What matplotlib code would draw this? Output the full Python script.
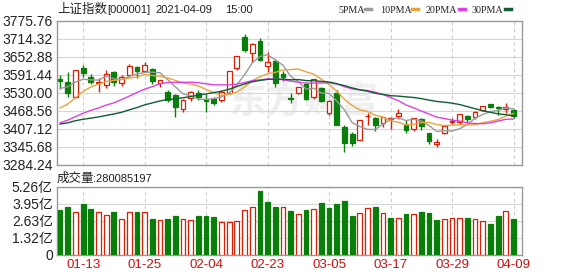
import numpy as np
import pandas as pd
import matplotlib
matplotlib.use("Agg")
import matplotlib.pyplot as plt
from matplotlib.lines import Line2D

# trading days shown (2021)
dates = ["01-08", "01-11", "01-12", "01-13", "01-14", "01-15", "01-18", "01-19", "01-20", "01-21",
         "01-22", "01-25", "01-26", "01-27", "01-28", "01-29", "02-01", "02-02", "02-03", "02-04",
         "02-05", "02-08", "02-09", "02-10", "02-18", "02-19", "02-22", "02-23", "02-24", "02-25",
         "02-26", "03-01", "03-02", "03-03", "03-04", "03-05", "03-08", "03-09", "03-10", "03-11",
         "03-12", "03-15", "03-16", "03-17", "03-18", "03-19", "03-22", "03-23", "03-24", "03-25",
         "03-26", "03-29", "03-30", "03-31", "04-01", "04-02", "04-06", "04-07", "04-08", "04-09"]
tick_labels = ["01-13", "01-25", "02-04", "02-23", "03-05", "03-17", "03-29", "04-09"]

opens = [3577.7, 3566.0, 3518.0, 3614.0, 3586.0, 3563.0, 3558.0, 3600.0, 3564.0, 3590.0,
         3618.0, 3606.0, 3611.0, 3565.0, 3535.0, 3523.0, 3474.0, 3512.0, 3531.0, 3509.0,
         3510.0, 3506.0, 3531.0, 3614.0, 3720.0, 3665.0, 3709.0, 3622.0, 3640.0, 3594.0,
         3512.0, 3530.0, 3561.0, 3517.0, 3546.0, 3463.0, 3531.0, 3413.0, 3390.0, 3370.0,
         3450.0, 3444.0, 3427.0, 3440.0, 3453.0, 3421.0, 3406.0, 3440.0, 3392.0, 3356.0,
         3392.0, 3432.0, 3432.0, 3452.0, 3449.0, 3472.0, 3491.0, 3482.0, 3474.0, 3472.0]
highs = [3590.0, 3600.0, 3608.5, 3625.0, 3595.0, 3582.0, 3609.0, 3605.0, 3590.0, 3628.0,
         3622.0, 3636.0, 3615.0, 3575.0, 3540.0, 3525.0, 3510.0, 3538.0, 3540.0, 3527.0,
         3515.0, 3540.0, 3603.5, 3657.0, 3731.0, 3702.0, 3718.0, 3670.0, 3645.0, 3605.0,
         3530.0, 3552.0, 3565.0, 3578.0, 3550.0, 3505.0, 3540.0, 3420.0, 3398.0, 3437.0,
         3461.0, 3448.0, 3447.0, 3448.0, 3475.0, 3438.0, 3444.0, 3445.0, 3395.0, 3372.0,
         3420.0, 3445.0, 3457.0, 3455.0, 3467.0, 3487.0, 3493.0, 3485.0, 3495.0, 3476.0]
lows = [3545.0, 3518.0, 3512.0, 3585.0, 3560.0, 3535.0, 3546.0, 3555.0, 3555.0, 3585.0,
        3582.0, 3600.0, 3560.0, 3552.0, 3500.0, 3448.0, 3465.0, 3502.0, 3505.0, 3466.0,
        3490.0, 3500.0, 3529.0, 3610.0, 3670.0, 3637.0, 3640.0, 3603.0, 3549.0, 3570.0,
        3495.0, 3525.0, 3505.0, 3510.0, 3500.0, 3455.0, 3420.0, 3329.0, 3349.0, 3368.0,
        3421.0, 3400.0, 3415.0, 3408.0, 3440.0, 3392.0, 3400.0, 3405.0, 3355.0, 3347.0,
        3390.0, 3425.0, 3425.0, 3427.0, 3440.0, 3470.0, 3478.0, 3455.0, 3463.0, 3444.0]
closes = [3570.11, 3531.50, 3608.34, 3598.65, 3565.90, 3566.38, 3596.22, 3566.26, 3583.09, 3621.26,
          3606.75, 3624.24, 3569.43, 3573.34, 3505.18, 3483.07, 3505.28, 3533.68, 3517.31, 3501.86,
          3496.33, 3532.44, 3603.49, 3655.09, 3675.36, 3696.17, 3642.44, 3636.36, 3564.08, 3585.05,
          3509.08, 3551.40, 3508.59, 3576.90, 3503.49, 3501.99, 3421.41, 3359.29, 3357.74, 3436.83,
          3453.08, 3419.95, 3446.73, 3445.55, 3463.07, 3404.66, 3443.44, 3416.00, 3367.06, 3363.59,
          3418.33, 3435.31, 3456.68, 3441.91, 3466.33, 3484.39, 3482.97, 3479.63, 3482.55, 3450.68]
# closes of the 29 sessions before 01-08, only used to start the moving averages
warmup_close = [3408.31, 3391.76, 3451.94, 3449.38, 3442.14, 3444.58, 3416.60, 3410.18, 3371.96, 3373.28,
                3347.19, 3369.12, 3367.23, 3366.98, 3404.87, 3394.90, 3420.57, 3356.78, 3382.32, 3363.11,
                3396.56, 3397.29, 3379.04, 3414.45, 3473.07, 3502.96, 3528.68, 3550.88, 3576.20]
# volume in 亿
volume = [3.46, 3.70, 3.31, 3.93, 3.54, 3.31, 3.08, 3.31, 2.77, 3.31,
          3.31, 3.31, 2.77, 2.69, 2.77, 3.00, 2.77, 2.69, 3.00, 3.00,
          2.93, 2.54, 2.54, 2.62, 3.46, 3.70, 4.93, 4.08, 3.70, 3.70,
          3.39, 3.16, 3.46, 3.54, 4.00, 3.62, 3.93, 4.16, 3.00, 3.23,
          3.62, 3.70, 3.23, 2.85, 2.85, 3.16, 3.16, 3.31, 3.23, 2.69,
          2.77, 2.85, 2.85, 2.85, 2.77, 2.62, 2.39, 3.00, 3.39, 2.80]
last_volume = 280085197

price_ticks = [3284.24, 3345.68, 3407.12, 3468.56, 3530.00, 3591.44, 3652.88, 3714.32, 3775.76]
vol_ticks = [0, 1.315, 2.63, 3.945, 5.26]
vol_tick_labels = ["0", "1.32亿", "2.63亿", "3.95亿", "5.26亿"]

RED = '#d81e06'
GREEN = '#0a7e0a'
ma_colors = {5: '#9a9a9a', 10: '#e8a43a', 20: '#e040e0', 30: '#0f5e32'}
FONT = ['Liberation Sans', 'Noto Sans CJK SC']
CJK = ['Noto Sans CJK SC', 'DejaVu Sans']

o = np.array(opens); h = np.array(highs); l = np.array(lows); c = np.array(closes)
x = np.arange(len(dates))
all_close = pd.Series(warmup_close + closes)
ma = {n: all_close.rolling(n).mean().iloc[len(warmup_close):].to_numpy() for n in (5, 10, 20, 30)}
prev = np.array([warmup_close[-1]] + closes[:-1])
vol_up = c >= prev
up = c >= o

fig = plt.figure(figsize=(5.78, 2.76), dpi=100)
W, H = 578, 276
ax = fig.add_axes([57 / W, 1 - 165 / H, 465 / W, 144 / H])
axv = fig.add_axes([57 / W, 1 - 255 / H, 465 / W, 68.3 / H])

tick_pos = [dates.index(t) for t in tick_labels]

for a in (ax, axv):
    a.set_xlim(-0.4, 60.1)
    a.set_xticks(tick_pos)
    a.xaxis.grid(True, color='#cccccc', lw=0.8, ls=(0, (3, 3)))
    a.yaxis.grid(True, color='#d6d6d6', lw=0.8)
    a.set_axisbelow(True)
    for s in a.spines.values():
        s.set_color('#9a9a9a')
        s.set_linewidth(1.0)
    a.tick_params(length=0, pad=3)

# watermark
ax.text(0.53, 0.44, "东方财富", transform=ax.transAxes, fontsize=27, color='#efefef',
        ha='center', va='center', family=CJK, fontweight='bold', style='italic', zorder=0)

# candles
cols = np.where(up, RED, GREEN)
ax.vlines(x, l, h, colors=cols, lw=1.0, zorder=2)
bw = 0.62
body_h = np.maximum(np.abs(c - o), 1.2)
body_b = np.minimum(o, c)
ax.bar(x[up], body_h[up], bottom=body_b[up], width=bw, facecolor='white',
       edgecolor=RED, lw=0.9, zorder=3)
ax.bar(x[~up], body_h[~up], bottom=body_b[~up], width=bw, facecolor=GREEN,
       edgecolor=GREEN, lw=0.9, zorder=3)

for n in (5, 10, 20, 30):
    ax.plot(x, ma[n], color=ma_colors[n], lw=1.0, zorder=4)

ax.set_ylim(price_ticks[0], price_ticks[-1])
ax.set_yticks(price_ticks)
ax.set_yticklabels(["%.2f" % v for v in price_ticks], family=FONT, fontsize=10, color='#222222')
ax.set_xticklabels([])

# volume
v = np.array(volume)
axv.bar(x[vol_up], v[vol_up], width=bw, facecolor='white', edgecolor=RED, lw=0.9, zorder=3)
axv.bar(x[~vol_up], v[~vol_up], width=bw, facecolor=GREEN, edgecolor=GREEN, lw=0.9, zorder=3)
axv.set_ylim(0, vol_ticks[-1])
axv.set_yticks(vol_ticks)
axv.set_yticklabels(vol_tick_labels, family=FONT, fontsize=10, color='#222222')
axv.set_xticklabels(tick_labels, family=FONT, fontsize=9.5, color='#cc1111')

# header line
ty = 1 - 13 / H
fig.text(57 / W, ty, "上证指数", family=CJK, fontsize=9, color='#222222', va='baseline')
for txt, px in [("[000001]", 107), ("2021-04-09", 155), ("15:00", 225)]:
    fig.text(px / W, ty, txt, family='Liberation Sans', fontsize=8, color='#222222', va='baseline')

vy = 1 - 182 / H
fig.text(57 / W, vy, "成交量", family=CJK, fontsize=9, color='#222222', va='baseline')
fig.text(93 / W, vy, ":%d" % last_volume, family='Liberation Sans', fontsize=8,
         color='#222222', va='baseline')

# legend row
ly = 1 - 9 / H
leg = [("5PMA", 338, 365, 5), ("10PMA", 380, 412, 10), ("20PMA", 426, 459, 20), ("30PMA", 472, 505, 30)]
for name, tx, lx, n in leg:
    fig.text(tx / W, 1 - 12.8 / H, name, family='Liberation Serif', fontsize=7.2,
             color='#222222', va='baseline', ha='left')
    fig.add_artist(Line2D([lx / W, (lx + 6) / W], [ly, ly],
                          color=ma_colors[n], lw=2.5, transform=fig.transFigure))

fig.savefig("out.png", dpi=100)
